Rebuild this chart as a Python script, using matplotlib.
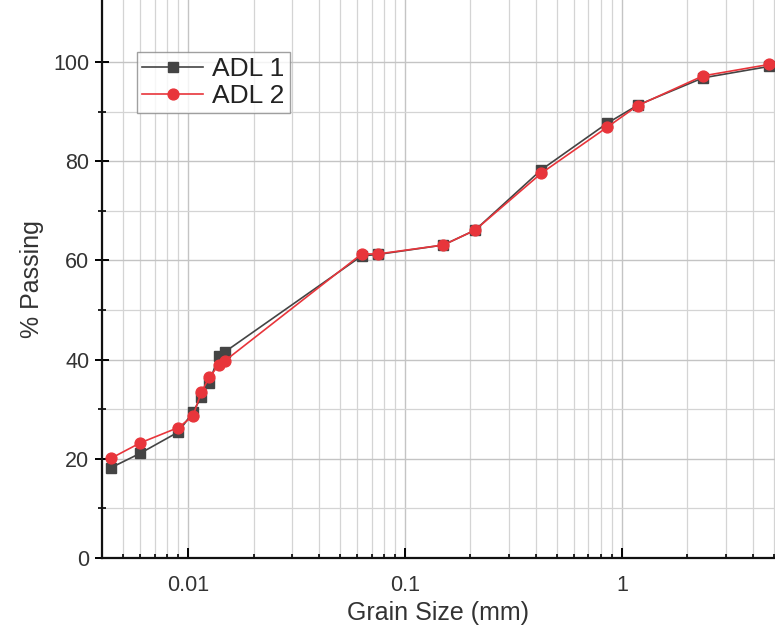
import numpy as np
import matplotlib.pyplot as plt
from matplotlib.ticker import LogLocator, FixedFormatter, FixedLocator

plt.rcParams['font.family'] = ['Liberation Sans', 'DejaVu Sans']

# Datos (tamaño en mm, % que pasa)
size_1 = [0.0044, 0.006, 0.009, 0.0105, 0.0115, 0.0125, 0.0138, 0.0148,
          0.063, 0.075, 0.15, 0.21, 0.425, 0.85, 1.18, 2.36, 4.75]
pass_1 = [18.2, 21.1, 25.4, 29.4, 32.5, 35.3, 40.8, 41.6,
          60.9, 61.2, 63.1, 66.1, 78.3, 87.6, 91.3, 96.8, 99.1]

size_2 = [0.0044, 0.006, 0.009, 0.0105, 0.0115, 0.0125, 0.0138, 0.0148,
          0.063, 0.075, 0.15, 0.21, 0.425, 0.85, 1.18, 2.36, 4.75]
pass_2 = [20.1, 23.2, 26.3, 28.6, 33.5, 36.4, 38.9, 39.8,
          61.3, 61.3, 63.1, 66.1, 77.6, 86.8, 91.2, 97.2, 99.5]

xticks = [0.01, 0.1, 1]
xlabels = ["0.01", "0.1", "1"]

fig = plt.figure(figsize=(7.75, 6.39), dpi=100)
ax = fig.add_axes([0.1316, 0.1268, 0.8684, 0.8732])

ax.plot(size_1, pass_1, '-s', color='#444444', lw=1.2, ms=6.5,
        mfc='#444444', mec='#444444', label='ADL 1', zorder=3)
ax.plot(size_2, pass_2, '-o', color='#e8353b', lw=1.2, ms=7.8,
        mfc='#e8353b', mec='#e8353b', label='ADL 2', zorder=4)

ax.set_xscale('log')
ax.set_xlim(0.004, 5.07)
ax.set_ylim(0, 112.5)

ax.xaxis.set_major_locator(FixedLocator(xticks))
ax.xaxis.set_major_formatter(FixedFormatter(xlabels))
ax.xaxis.set_minor_locator(LogLocator(base=10, subs=np.arange(2, 10)))
ax.yaxis.set_major_locator(FixedLocator([0, 20, 40, 60, 80, 100]))
ax.yaxis.set_minor_locator(FixedLocator([10, 30, 50, 70, 90]))

ax.grid(True, which='major', color='#c4c4c4', lw=1.0)
ax.grid(True, which='minor', color='#d4d4d4', lw=0.9)
ax.set_axisbelow(True)

for s in ['top', 'right']:
    ax.spines[s].set_visible(False)
for s in ['left', 'bottom']:
    ax.spines[s].set_linewidth(1.6)
    ax.spines[s].set_color('#111111')

ax.tick_params(axis='y', which='major', direction='inout', length=10, width=1.4,
               labelsize=15.5, labelcolor='#333333', pad=4)
ax.tick_params(axis='y', which='minor', direction='inout', length=6, width=1.2)
ax.tick_params(axis='x', which='major', direction='in', length=7, width=1.4,
               labelsize=15.5, labelcolor='#333333', pad=12)
ax.tick_params(axis='x', which='minor', direction='in', length=3, width=1.2)

ax.set_xlabel('Grain Size (mm)', fontsize=18, color='#333333', labelpad=4)
ax.set_ylabel('% Passing', fontsize=18, color='#333333', labelpad=7)

leg = ax.legend(loc='upper left', bbox_to_anchor=(0.052, 0.907), fontsize=19,
                frameon=True, fancybox=False, edgecolor='#888888',
                handlelength=2.3, borderpad=0.2, labelspacing=0.1,
                handletextpad=0.35, borderaxespad=0)
leg.get_frame().set_linewidth(1.0)
for t in leg.get_texts():
    t.set_color('#222222')

fig.savefig('out.png', dpi=100)
